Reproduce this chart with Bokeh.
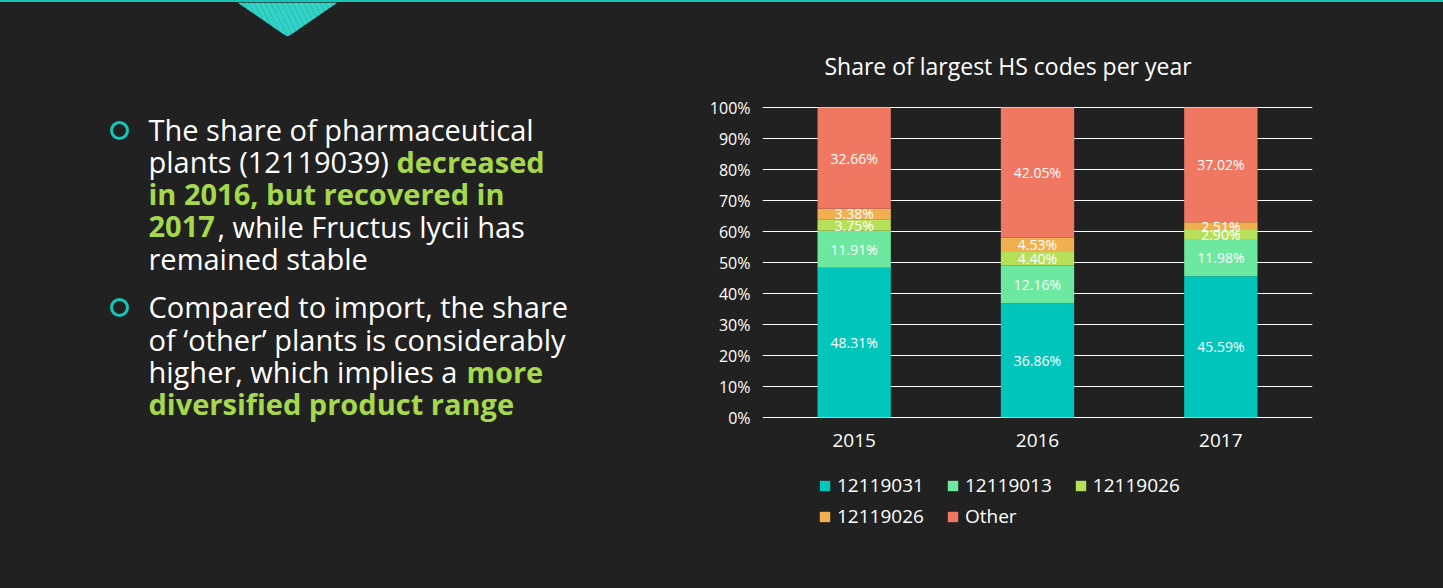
from bokeh.plotting import figure
from bokeh.models import (ColumnDataSource, FactorRange, Range1d, FixedTicker, PrintfTickFormatter,
                          Legend, LegendItem, LabelSet, Label, Div)
from bokeh.layouts import row, column
from bokeh.embed import file_html
from bokeh.resources import INLINE
from bokeh.core.properties import value

# ---------------- data ----------------
years = ["2015", "2016", "2017"]
legend_labels = ["12119031", "12119013", "12119026", "12119026", "Other"]
s_12119031 = [48.31, 36.86, 45.59]
s_12119013 = [11.91, 12.16, 11.98]
s_12119026a = [3.75, 4.40, 2.90]
s_12119026b = [3.38, 4.53, 2.51]
s_other = [32.66, 42.05, 37.02]
y_ticks = [0, 10, 20, 30, 40, 50, 60, 70, 80, 90, 100]
chart_title = "Share of largest HS codes per year"

BG = "#212121"
TEAL = "#16C4B8"
GREEN_TXT = "#A5D84C"
colors = ["#02C6BC", "#6CE8A0", "#B6E05A", "#F0B052", "#F07862"]
FONT = "Open Sans"

series = [s_12119031, s_12119013, s_12119026a, s_12119026b, s_other]
keys = ["s0", "s1", "s2", "s3", "s4"]

src = ColumnDataSource(dict(year=years, **{k: v for k, v in zip(keys, series)}))

# label positions (segment mid-points)
lx, ly, lt = [], [], []
for i, yr in enumerate(years):
    base = 0.0
    for s in series:
        v = s[i]
        lx.append(yr)
        ly.append(base + v / 2.0)
        lt.append(f"{v:.2f}%")
        base += v
lsrc = ColumnDataSource(dict(year=lx, mid=ly, txt=lt))

# ---------------- layout constants (page pixels) ----------------
TOP = 2            # height of the teal top strip
PLOT_TOP, PLOT_BOT = 107, 417
PX_PER_UNIT = (PLOT_BOT - PLOT_TOP) / 100.0
Y_MIN = -(588 - PLOT_BOT) / PX_PER_UNIT
Y_MAX = 100 + (PLOT_TOP - TOP) / PX_PER_UNIT

# ---------------- right figure: chart ----------------
p = figure(x_range=FactorRange(factors=years), y_range=Range1d(Y_MIN, Y_MAX),
           width=763, height=588 - TOP, output_backend="svg", toolbar_location=None,
           x_axis_location=None,
           min_border_left=82, min_border_right=131, min_border_top=0, min_border_bottom=0,
           background_fill_color=None, border_fill_color=BG, outline_line_color=None)

renderers = p.vbar_stack(keys, x="year", width=0.4, color=colors, line_color=None, source=src)

p.xgrid.visible = False
p.ygrid.ticker = FixedTicker(ticks=y_ticks)
p.ygrid.grid_line_color = "white"
p.ygrid.grid_line_width = 1

yax = p.yaxis[0]
yax.ticker = FixedTicker(ticks=y_ticks)
yax.formatter = PrintfTickFormatter(format="%d%%")
yax.axis_line_color = None
yax.major_tick_line_color = None
yax.minor_tick_line_color = None
yax.major_tick_out = 0
yax.major_tick_in = 0
yax.major_label_text_color = "white"
yax.major_label_text_font = FONT
yax.major_label_text_font_size = "16px"
yax.major_label_standoff = 12

# category labels under the bars
p.add_layout(LabelSet(x="year", y="yl", text="year",
                      source=ColumnDataSource(dict(year=years, yl=[-(440 - PLOT_BOT) / PX_PER_UNIT] * 3)),
                      text_align="center", text_baseline="middle", text_color="white",
                      text_font=value(FONT), text_font_size="19px"))

p.add_layout(LabelSet(x="year", y="mid", text="txt", source=lsrc, text_align="center",
                      text_baseline="middle", text_color="white", text_font=value(FONT),
                      text_font_size="14px"))

p.add_layout(Label(x=(1007.5 - 762) / 183.333, y=100 + (PLOT_TOP - 65) / PX_PER_UNIT, text=chart_title,
                   text_align="center", text_baseline="middle", text_color="white",
                   text_font=FONT, text_font_size="23px"))

leg_common = dict(orientation="horizontal", background_fill_alpha=0, border_line_color=None,
                  padding=0, margin=0, spacing=22, glyph_width=13, glyph_height=13,
                  label_standoff=6, label_text_color="white", label_text_font=FONT,
                  label_text_font_size="19px", label_height=20)
leg1 = Legend(items=[LegendItem(label=legend_labels[i], renderers=[renderers[i]]) for i in range(3)],
              location=(56, 90), **leg_common)
leg2 = Legend(items=[LegendItem(label=legend_labels[i], renderers=[renderers[i]]) for i in range(3, 5)],
              location=(56, 59), **leg_common)
p.add_layout(leg1)
p.add_layout(leg2)

# ---------------- left figure: text ----------------
lf = figure(width=680, height=588 - TOP, x_range=Range1d(0, 680), y_range=Range1d(588, TOP),
            x_axis_type=None, y_axis_type=None, output_backend="svg", toolbar_location=None,
            min_border=0, background_fill_color=None, border_fill_color=BG, outline_line_color=None)
lf.grid.visible = False

# top decoration
lf.patch(x=[237, 337, 292, 287, 282], y=[TOP, TOP, 33, 36, 33], fill_color=TEAL, line_color=None,
         hatch_pattern="\\", hatch_color="#45D6CB", hatch_weight=4, hatch_scale=11, hatch_alpha=0.7)

# bullets
lf.scatter(x=[119, 119], y=[130, 307], size=16, marker="circle", fill_color=None,
           line_color=TEAL, line_width=3)

white_txt = dict(
    x=[148, 148, 217, 148, 148, 148, 148],
    y=[129, 161, 226, 258, 306, 339, 371],
    t=["The share of pharmaceutical", "plants (12119039)", ", while Fructus lycii has",
       "remained stable", "Compared to import, the share", "of \u2018other\u2019 plants is considerably",
       "higher, which implies a"])
green_txt = dict(
    x=[396, 148, 148, 466, 148],
    y=[161, 193, 226, 371, 403],
    t=["decreased", "in 2016, but recovered in", "2017", "more", "diversified product range"])

lf.text(x="x", y="y", text="t", source=ColumnDataSource(white_txt), text_color="white",
        text_font=value(FONT), text_font_size="29px", text_baseline="alphabetic")
lf.text(x="x", y="y", text="t", source=ColumnDataSource(green_txt), text_color=GREEN_TXT,
        text_font=value(FONT), text_font_size="29px", text_font_style="bold",
        text_baseline="alphabetic")

topline = Div(width=1443, height=TOP, margin=0, styles={"background-color": TEAL})
layout = column(topline, row(lf, p, spacing=0, styles={"background-color": BG}), spacing=0,
                styles={"background-color": BG})

open("out.html", "w").write(file_html(layout, INLINE))
